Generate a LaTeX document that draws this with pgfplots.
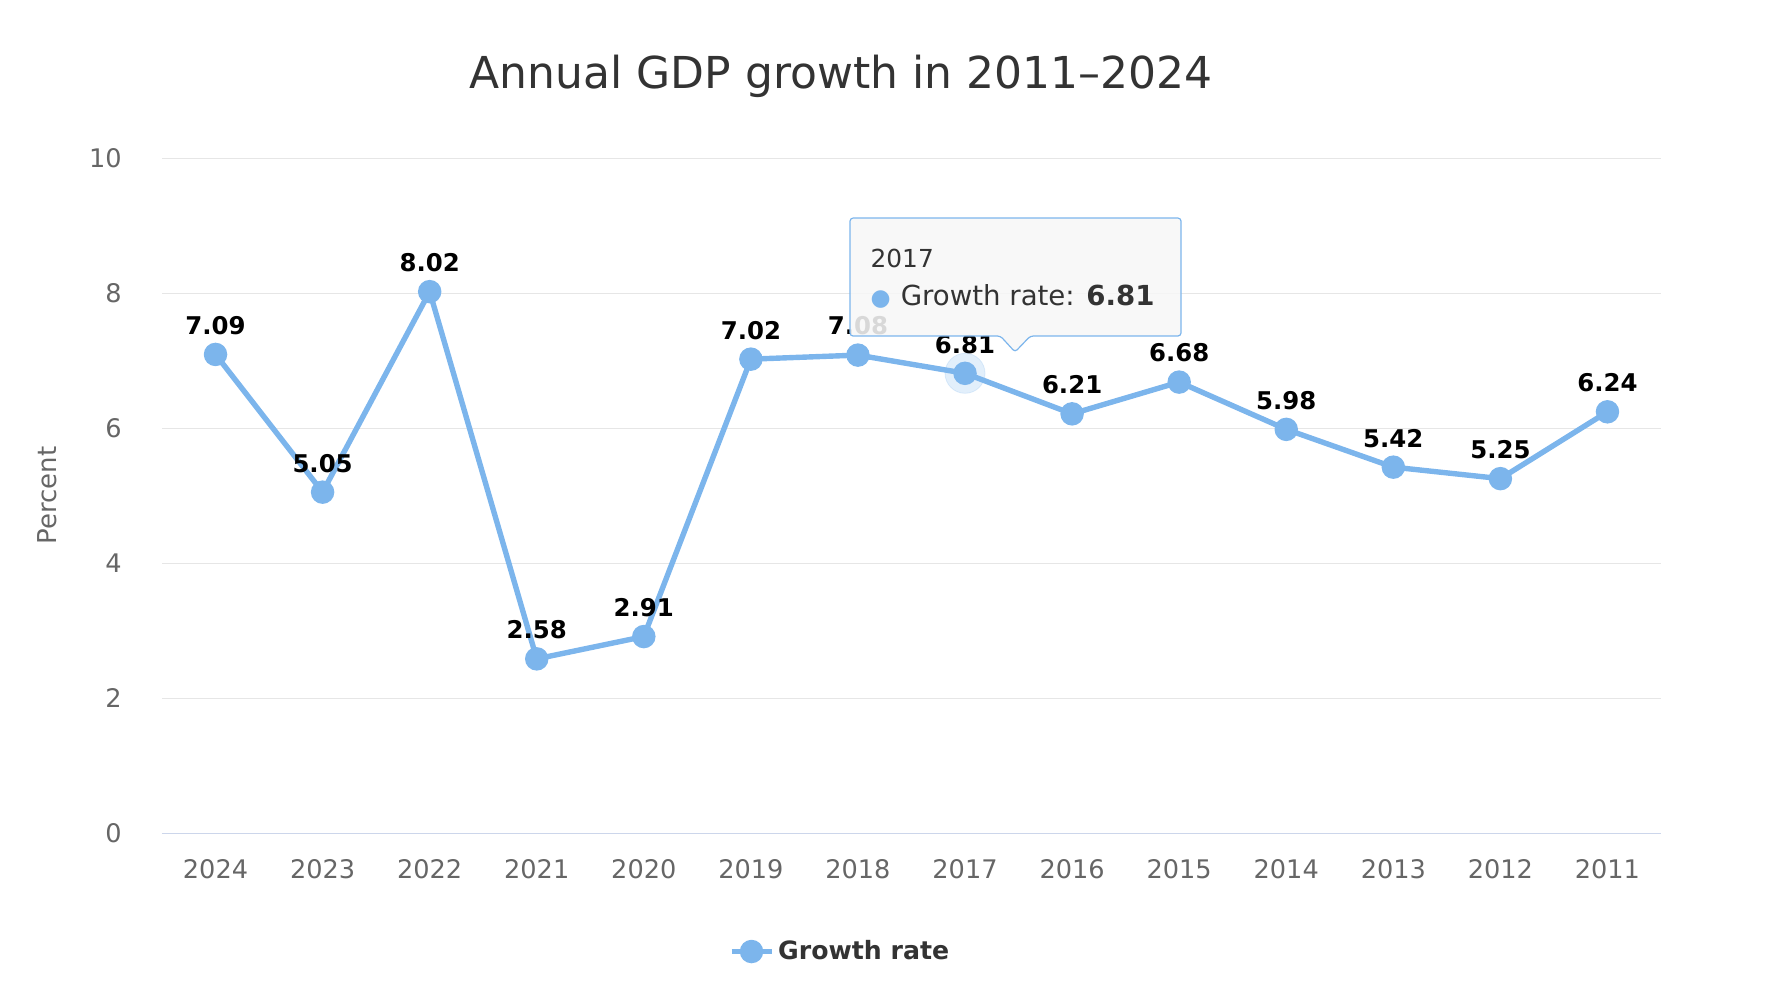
\documentclass[border=0pt]{standalone}
\usepackage{pgfplots}
\pgfplotsset{compat=1.18}
\usepackage{fontspec}
\setmainfont{DejaVu Sans}
\definecolor{ser}{HTML}{7CB5EC}
\definecolor{gridc}{HTML}{E6E6E6}
\definecolor{axisc}{HTML}{CCD6EB}
\definecolor{tickc}{HTML}{666666}
\definecolor{ttl}{HTML}{333333}
\begin{document}
\begin{tikzpicture}
\useasboundingbox (-81pt,-77pt) rectangle (805pt,416.5pt);
\begin{axis}[
  scale only axis, width=749.5pt, height=337.5pt,
  xmin=-0.5, xmax=13.5, ymin=0, ymax=10,
  clip=false,
  /pgf/number format/assume math mode=true,
  xtick={0,...,13},
  xticklabels={2024,2023,2022,2021,2020,2019,2018,2017,2016,2015,2014,2013,2012,2011},
  ytick={0,2,4,6,8,10},
  ymajorgrids, grid style={gridc, line width=0.5pt},
  axis line style={draw=none},
  major tick length=0pt, tick style={draw=none},
  xticklabel style={font=\fontsize{12.8}{14}\selectfont, text=tickc, inner sep=0pt, anchor=north, yshift=-13pt},
  yticklabel style={font=\fontsize{12.8}{14}\selectfont, text=tickc, inner sep=0pt, anchor=east, xshift=-20pt},
  legend style={at={(0.453,-0.1756)}, anchor=center, draw=none, fill=none,
    font=\bfseries\fontsize{12.6}{14}\selectfont, text=ttl},
  legend image code/.code={\draw[line width=2.7pt, ser] (0pt,0pt) -- (20pt,0pt); \fill[ser] (10pt,0pt) circle (4.5pt);},
]
\draw[axisc, line width=0.5pt] (rel axis cs:0,0) -- (rel axis cs:1,0);
\addplot[only marks, color=ser, mark=*, mark size=10pt, draw=none, fill=ser, opacity=0.22,
  mark options={draw=none, fill=ser}, forget plot]
  coordinates {(7,6.81)};
\addplot[ser, line width=2.7pt, mark=*, mark size=4.5pt, mark options={fill=ser, draw=none, solid},
  nodes near coords,
  every node near coord/.append style={font=\bfseries\fontsize{12.2}{14}\selectfont, text=black, anchor=center, yshift=14.5pt}]
  coordinates {
  (0,7.09) (1,5.05) (2,8.02) (3,2.58) (4,2.91) (5,7.02) (6,7.08)
  (7,6.81) (8,6.21) (9,6.68) (10,5.98) (11,5.42) (12,5.25) (13,6.24)};
\addlegendentry{Growth rate}
\coordinate (b1) at (axis cs:5.926,9.11);
\coordinate (b2) at (axis cs:9.017,7.363);
\coordinate (p1) at (axis cs:7.33,7.363);
\coordinate (p2) at (axis cs:7.467,7.126);
\coordinate (p3) at (axis cs:7.61,7.363);
\coordinate (t1) at (axis cs:6.115,8.385);
\coordinate (t2) at (axis cs:6.115,7.822);
\coordinate (yl) at (rel axis cs:0,0.5);
\node[font=\fontsize{22}{26}\selectfont, text=ttl, anchor=base] at (rel axis cs:0.453,1) [yshift=35pt] {Annual GDP growth in 2011--2024};
\end{axis}
\node[font=\fontsize{13}{15}\selectfont, text=tickc, xshift=-57.3pt, rotate=90, anchor=center] at (yl) {Percent};
\draw[ser, line width=0.6pt, fill={rgb,255:red,247;green,247;blue,247}, fill opacity=0.88, rounded corners=1.5pt]
  (b1) -- (b1 -| b2) -- (b2) -- (p3) -- (p2) -- (p1) -- (b2 -| b1) -- cycle;
\node[font=\fontsize{12.4}{14}\selectfont, text=ttl, anchor=base west, inner sep=0pt] at (t1) {2017};
\node[font=\fontsize{13.8}{16}\selectfont, text=ttl, anchor=base west, inner sep=0pt] at (t2)
  {{\fontsize{11.5}{12}\selectfont\color{ser}●}\hspace{5pt}Growth rate: \textbf{6.81}};
\end{tikzpicture}
\end{document}
